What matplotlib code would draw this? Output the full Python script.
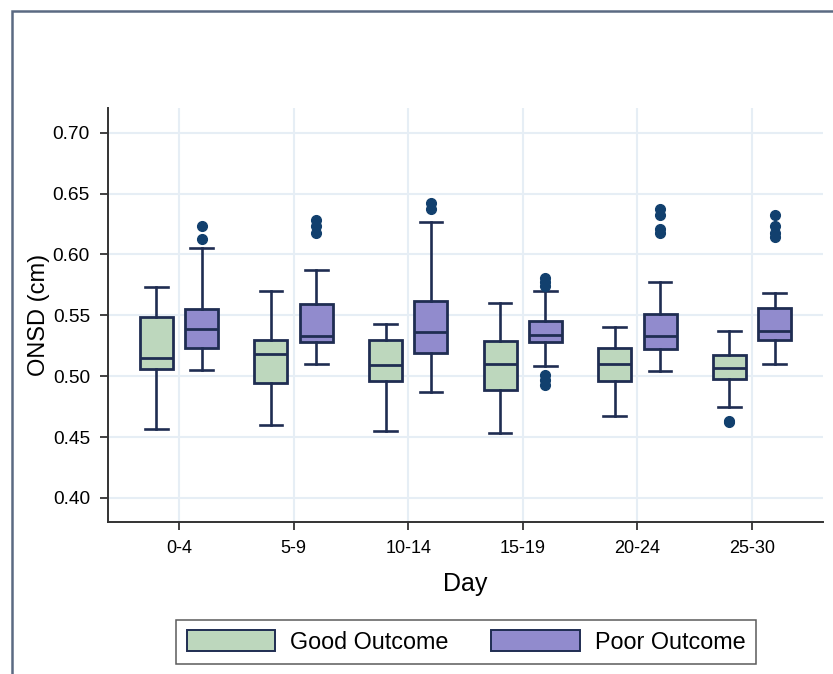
import matplotlib.pyplot as plt
from matplotlib.patches import Patch, Rectangle

plt.rcParams['font.family'] = ['Liberation Sans', 'DejaVu Sans']

# ONSD box plot summary values (cm)
days = ['0-4', '5-9', '10-14', '15-19', '20-24', '25-30']

good_lo = [0.457, 0.460, 0.455, 0.453, 0.467, 0.475]
good_q1 = [0.506, 0.494, 0.496, 0.489, 0.496, 0.498]
good_med = [0.515, 0.518, 0.509, 0.510, 0.510, 0.507]
good_q3 = [0.549, 0.530, 0.530, 0.529, 0.523, 0.517]
good_hi = [0.573, 0.570, 0.543, 0.560, 0.540, 0.537]
good_out = [[], [], [], [], [], [0.463, 0.462]]

poor_lo = [0.505, 0.510, 0.487, 0.508, 0.504, 0.510]
poor_q1 = [0.523, 0.528, 0.519, 0.528, 0.522, 0.530]
poor_med = [0.539, 0.533, 0.536, 0.534, 0.533, 0.537]
poor_q3 = [0.555, 0.559, 0.562, 0.545, 0.551, 0.556]
poor_hi = [0.605, 0.587, 0.627, 0.570, 0.577, 0.568]
poor_out = [[0.623, 0.613],
            [0.628, 0.623, 0.618],
            [0.642, 0.637],
            [0.581, 0.577, 0.574, 0.501, 0.497, 0.493],
            [0.637, 0.632, 0.621, 0.618],
            [0.632, 0.623, 0.618, 0.614]]

green = '#bdd7bd'
purple = '#918bcd'
edge = '#1f2d52'
dot = '#12406e'


def stats(lo, q1, med, q3, hi, out):
    return [dict(whislo=a, q1=b, med=c, q3=d, whishi=e, fliers=f)
            for a, b, c, d, e, f in zip(lo, q1, med, q3, hi, out)]


fig = plt.figure(figsize=(8.33, 6.74), dpi=100)
ax = fig.add_axes([0.1297, 0.226, 0.8583, 0.6138])

pos = list(range(1, len(days) + 1))
for st, off, col in [(stats(good_lo, good_q1, good_med, good_q3, good_hi, good_out), -0.198, green),
                     (stats(poor_lo, poor_q1, poor_med, poor_q3, poor_hi, poor_out), 0.198, purple)]:
    ax.bxp(st, positions=[p + off for p in pos], widths=0.288, capwidths=0.198,
           patch_artist=True, manage_ticks=False,
           boxprops=dict(facecolor=col, edgecolor=edge, linewidth=2.0),
           medianprops=dict(color=edge, linewidth=2.0),
           whiskerprops=dict(color=edge, linewidth=1.9),
           capprops=dict(color=edge, linewidth=1.9),
           flierprops=dict(marker='o', markerfacecolor=dot, markeredgecolor=dot,
                           markersize=7, linestyle='none'))

ax.set_xlim(0.38, 6.62)
ax.set_ylim(0.3805, 0.7203)
ax.set_xticks(pos)
ax.set_xticklabels(days, fontsize=13)
ax.set_yticks([0.40, 0.45, 0.50, 0.55, 0.60, 0.65, 0.70])
ax.set_yticklabels(['0.40', '0.45', '0.50', '0.55', '0.60', '0.65', '0.70'], fontsize=13.8)
ax.tick_params(axis='both', length=6, width=1.3, color='#333333', pad=7)
ax.set_axisbelow(True)
ax.grid(True, color='#e6eef5', linewidth=1.5)
for s in ['top', 'right']:
    ax.spines[s].set_visible(False)
for s in ['left', 'bottom']:
    ax.spines[s].set_color('#333333')
    ax.spines[s].set_linewidth(1.4)

ax.set_xlabel('Day', fontsize=18, labelpad=11)
ax.set_ylabel('ONSD (cm)', fontsize=17, labelpad=2)

handles = [Patch(facecolor=green, edgecolor=edge, linewidth=1.4, label='Good Outcome'),
           Patch(facecolor=purple, edgecolor=edge, linewidth=1.4, label='Poor Outcome')]
leg = fig.legend(handles=handles, loc='center', bbox_to_anchor=(466 / 833, 0.0475), ncol=2,
                 fontsize=16.8, frameon=True, fancybox=False, handlelength=3.8,
                 handleheight=0.95, handletextpad=0.65, columnspacing=1.8, borderpad=0.45)
leg.get_frame().set_edgecolor('#333333')
leg.get_frame().set_linewidth(1.1)

# outer frame of the original graph region (left and top edges visible)
fig.add_artist(Rectangle((12 / 833, -0.1), 1.2, 1 - 11 / 674 + 0.1, transform=fig.transFigure,
                         fill=False, edgecolor='#5b6a82', linewidth=1.8))

fig.savefig('out.png', dpi=100)
